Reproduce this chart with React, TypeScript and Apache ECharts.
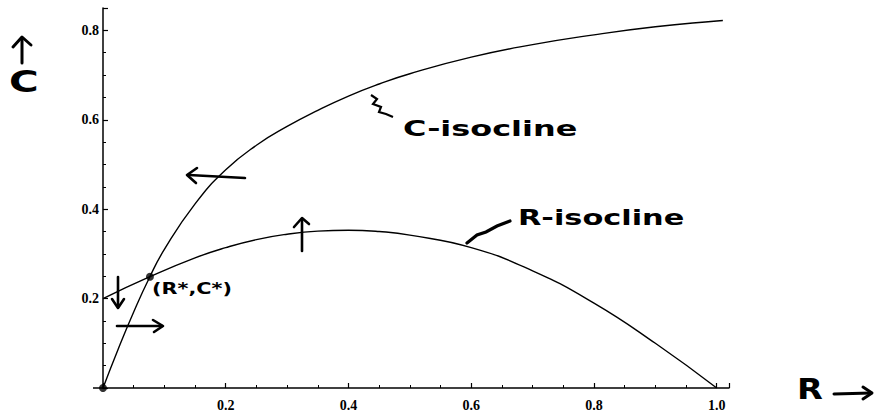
import React, { useEffect, useRef } from "react";
import * as echarts from "echarts";

// C-isocline
const cIsoR = [0, 0.025, 0.05, 0.075, 0.1, 0.15, 0.2, 0.25, 0.3, 0.35, 0.4, 0.45, 0.5, 0.6, 0.7, 0.8, 0.9, 1.0, 1.01];
const cIsoC = [0, 0.088, 0.17, 0.245, 0.31, 0.412, 0.488, 0.543, 0.585, 0.621, 0.653, 0.68, 0.703, 0.74, 0.768, 0.79, 0.808, 0.821, 0.822];

// R-isocline
const rIsoR = [0, 0.0765, 0.15, 0.2, 0.25, 0.3, 0.35, 0.4, 0.45, 0.5, 0.6, 0.7, 0.8, 0.9, 1.0];
const rIsoC = [0.2, 0.249, 0.291, 0.314, 0.332, 0.344, 0.351, 0.353, 0.35, 0.342, 0.314, 0.262, 0.19, 0.1, 0];

// Marked points: origin and equilibrium (R*, C*)
const pointR = [0, 0.0765];
const pointC = [0, 0.249];

const xTicks = [0.2, 0.4, 0.6, 0.8, 1.0];
const yTicks = [0.2, 0.4, 0.6, 0.8];

const fmt = (ticks: number[]) => (v: number) => {
  const hit = ticks.find((t) => Math.abs(t - v) < 1e-6);
  return hit !== undefined ? hit.toFixed(1) : "";
};

const hand = "DejaVu Sans";
const ink = "#000";

function arrow(shaft: number[][], head: number[][], w = 2.6) {
  return [
    { type: "polyline", shape: { points: shaft }, style: { stroke: ink, lineWidth: w, fill: null, lineCap: "round", lineJoin: "round" } },
    { type: "polyline", shape: { points: head }, style: { stroke: ink, lineWidth: w, fill: null, lineCap: "round", lineJoin: "round" } },
  ];
}

export default function App() {
  const ref = useRef<HTMLDivElement>(null);
  useEffect(() => {
    if (!ref.current) return;
    const chart = echarts.init(ref.current, undefined, { renderer: "svg" });
    const axisCommon = {
      type: "value",
      axisLine: { show: true, lineStyle: { color: ink, width: 1.5 } },
      axisTick: { show: true, inside: true, length: 5, lineStyle: { color: ink, width: 1.2 } },
      minorTick: { show: true, splitNumber: 4, length: 3, lineStyle: { color: ink, width: 1 } },
      splitLine: { show: false },
      minorSplitLine: { show: false },
    };
    const labelCommon = {
      color: ink,
      fontFamily: "Liberation Serif",
      fontWeight: "bold",
      fontSize: 14,
    };
    chart.setOption({
      animation: false,
      backgroundColor: "#fff",
      grid: { left: 103, top: 8, width: 626, height: 380, containLabel: false },
      xAxis: {
        ...axisCommon,
        min: 0,
        max: 1.02,
        interval: 0.2,
        axisLabel: { ...labelCommon, formatter: fmt(xTicks), margin: 10 },
      },
      yAxis: {
        ...axisCommon,
        min: 0,
        max: 0.85,
        interval: 0.2,
        axisLabel: { ...labelCommon, formatter: fmt(yTicks), margin: 4 },
      },
      series: [
        {
          name: "C-isocline",
          type: "line",
          smooth: 0.5,
          symbol: "none",
          data: cIsoR.map((r, i) => [r, cIsoC[i]]),
          lineStyle: { color: ink, width: 1.4 },
        },
        {
          name: "R-isocline",
          type: "line",
          smooth: 0.5,
          symbol: "none",
          data: rIsoR.map((r, i) => [r, rIsoC[i]]),
          lineStyle: { color: ink, width: 1.4 },
        },
        {
          name: "points",
          type: "scatter",
          symbolSize: 8,
          itemStyle: { color: ink },
          data: pointR.map((r, i) => [r, pointC[i]]),
          z: 5,
        },
      ],
      graphic: [
        // small axis overhang left of the origin
        { type: "line", shape: { x1: 93, y1: 388, x2: 103, y2: 388 }, style: { stroke: ink, lineWidth: 1.5 } },
        // y-axis label: arrow up + C
        ...arrow([[22, 63], [22, 38]], [[13, 47], [22, 37], [31, 45]], 3),
        { type: "text", x: 9, y: 66, scaleX: 1.35, style: { text: "C", font: `bold 30px "${hand}"`, fill: ink } },
        // x-axis label: R + arrow right
        { type: "text", x: 797, y: 375, scaleX: 1.2, style: { text: "R", font: `bold 28px "${hand}"`, fill: ink } },
        ...arrow([[834, 394], [871, 393]], [[863, 387], [872, 393], [863, 399]], 3),
        // C-isocline label and squiggle leader
        { type: "text", x: 403, y: 117, scaleX: 1.45, style: { text: "C-isocline", font: `bold 22px "${hand}"`, fill: ink } },
        { type: "polyline", shape: { points: [[371, 95], [377, 99], [373, 104], [381, 107], [379, 112], [386, 114], [393, 117]] }, style: { stroke: ink, lineWidth: 2.2, fill: null } },
        // R-isocline label and leader
        { type: "text", x: 518, y: 206, scaleX: 1.38, style: { text: "R-isocline", font: `bold 22px "${hand}"`, fill: ink } },
        { type: "polyline", shape: { points: [[467, 243], [477, 235], [486, 232], [497, 226], [510, 221]] }, style: { stroke: ink, lineWidth: 3.2, fill: null, lineCap: "round" } },
        // equilibrium label
        { type: "text", x: 152, y: 280, scaleX: 1.3, style: { text: "(R*,C*)", font: `bold 16px "${hand}"`, fill: ink } },
        // direction arrows
        ...arrow([[245, 178], [189, 175]], [[197, 168], [187, 175], [196, 183]]),
        ...arrow([[302, 251], [302, 219]], [[294, 227], [302, 218], [309, 224]]),
        ...arrow([[118, 277], [118, 307]], [[112, 299], [118, 308], [124, 299]]),
        ...arrow([[117, 326], [162, 326]], [[153, 320], [163, 326], [154, 332]]),
      ],
    });
    return () => chart.dispose();
  }, []);
  return <div ref={ref} style={{ width: 878, height: 414, position: "absolute", left: 0, top: 0 }} />;
}
